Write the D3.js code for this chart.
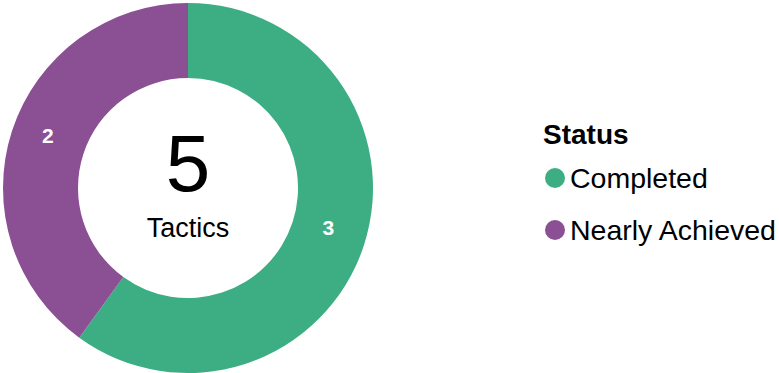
<!DOCTYPE html>
<html>
<head>
<meta charset="utf-8">
<script src="https://cdn.jsdelivr.net/npm/d3@7"></script>
<style>
  html, body { margin: 0; padding: 0; background: #ffffff; }
  svg { display: block; font-family: "Liberation Sans", Arial, sans-serif; }
</style>
</head>
<body>
<svg id="chart" width="779" height="373"></svg>
<script>
// Tactic counts by status
const statuses = ["Completed", "Nearly Achieved"];
const counts = [3, 2];
const colors = ["#3dae84", "#8b4f93"];
const centerLabel = "Tactics";
const legendTitle = "Status";

const svg = d3.select("#chart");
const cx = 188, cy = 188;
const outerR = 185, innerR = 110;

const data = statuses.map((s, i) => ({ status: s, count: counts[i] }));
const color = d3.scaleOrdinal().domain(statuses).range(colors);

const pie = d3.pie().value(d => d.count).sort(null);
const arc = d3.arc().innerRadius(innerR).outerRadius(outerR);
const arcs = pie(data);

const g = svg.append("g").attr("transform", `translate(${cx},${cy})`);

g.selectAll("path.slice")
  .data(arcs)
  .join("path")
  .attr("class", "slice")
  .attr("d", arc)
  .attr("fill", d => color(d.data.status));

// Slice value labels
g.selectAll("text.value")
  .data(arcs)
  .join("text")
  .attr("class", "value")
  .attr("x", d => arc.centroid(d)[0])
  .attr("y", d => arc.centroid(d)[1] + 1)
  .attr("text-anchor", "middle")
  .attr("font-size", 21)
  .attr("font-weight", "bold")
  .attr("fill", "#ffffff")
  .text(d => d.data.count);

// Total in the hole
const total = d3.sum(counts);
g.append("text")
  .attr("x", 0)
  .attr("y", 3)
  .attr("text-anchor", "middle")
  .attr("font-size", 80)
  .attr("fill", "#000000")
  .text(total);

g.append("text")
  .attr("x", 0)
  .attr("y", 49)
  .attr("text-anchor", "middle")
  .attr("font-size", 27)
  .attr("fill", "#000000")
  .text(centerLabel);

// Legend
const legend = svg.append("g").attr("transform", "translate(543,0)");
legend.append("text")
  .attr("x", 0)
  .attr("y", 144)
  .attr("font-size", 28)
  .attr("font-weight", "bold")
  .attr("fill", "#000000")
  .text(legendTitle);

const items = legend.selectAll("g.item")
  .data(data)
  .join("g")
  .attr("class", "item")
  .attr("transform", (d, i) => `translate(0,${178 + i * 52})`);

items.append("circle")
  .attr("cx", 12)
  .attr("cy", 0)
  .attr("r", 10)
  .attr("fill", d => color(d.status));

items.append("text")
  .attr("x", 27)
  .attr("y", 10)
  .attr("font-size", 28.5)
  .attr("fill", "#000000")
  .text(d => d.status);
</script>
</body>
</html>
